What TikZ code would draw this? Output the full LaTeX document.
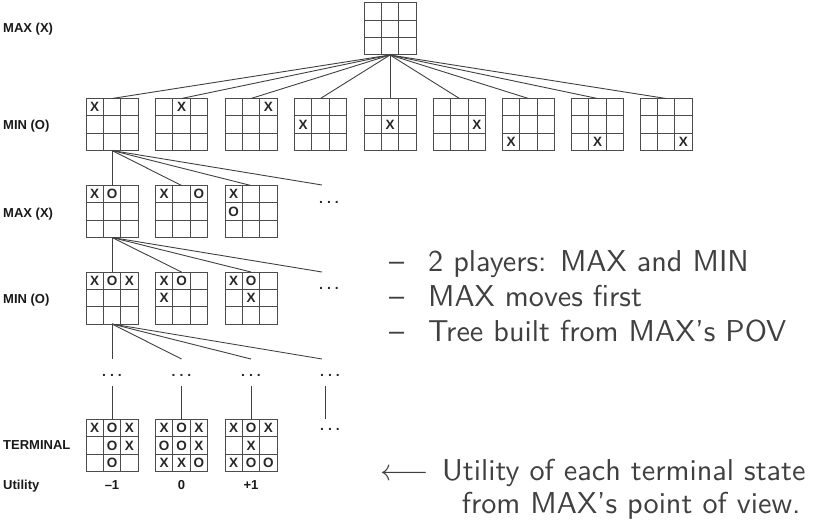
\documentclass[tikz,border=0pt]{standalone}
\usepackage{fontspec}
\usepackage{graphicx}
\usetikzlibrary{calc}
\newfontfamily\labfont{Liberation Sans}
\definecolor{gridc}{gray}{0.3}
\definecolor{edgec}{gray}{0.25}
\definecolor{slidetext}{gray}{0.25}

% slide text: 10pt design size, enlarged
\newcommand\slidetxt[1]{\scalebox{3.02}{\fontsize{10}{12}\selectfont\sffamily #1}}
\newcommand\itemdash{\makebox[12.9pt][l]{\textendash}}
\newcommand\dotrow{.\hspace{4pt}.\hspace{4pt}.}

% marks in a board: list of row/col/symbol
\newcommand\putmarks[2]{%
  \foreach \mrow/\mcol/\msym [count=\mn] in {#2}{%
    \node[mk] (#1-\mn) at ($(#1.north west)+({(\mcol+0.5)*52/3},{(\mrow+0.5)*52/3})$) {\msym};
  }}

\begin{document}
\begin{tikzpicture}[x=1pt,y=-1pt,
  board/.style={draw=gridc, line width=1pt, minimum size=52pt, inner sep=0pt, outer sep=0pt,
    path picture={
      \foreach \i in {1,2}{
        \draw[gridc, line width=1pt]
          ($(path picture bounding box.north west)!\i/3!(path picture bounding box.north east)$) --
          ($(path picture bounding box.south west)!\i/3!(path picture bounding box.south east)$);
        \draw[gridc, line width=1pt]
          ($(path picture bounding box.north west)!\i/3!(path picture bounding box.south west)$) --
          ($(path picture bounding box.north east)!\i/3!(path picture bounding box.south east)$);
      }}},
  mk/.style={font=\labfont\bfseries\fontsize{13.5}{15}\selectfont, inner sep=0pt, text=black!85},
  lab/.style={font=\labfont\bfseries\fontsize{13}{15}\selectfont, anchor=base west, inner sep=0pt, text=black!90},
  val/.style={font=\labfont\bfseries\fontsize{13}{15}\selectfont, anchor=base, inner sep=0pt, text=black!90},
  dots/.style={font=\labfont\bfseries\fontsize{14}{16}\selectfont, anchor=base, inner sep=0pt, text=black!85},
  edge/.style={draw=edgec, line width=0.9pt},
  txt/.style={inner sep=0pt, text=slidetext}]

\useasboundingbox (0,0) rectangle (814,524);

% root
\node[board] (top) at (390,29) {};

% first move of MAX
\foreach \n/\x in {1/112,2/181.5,3/251,4/320.5,5/390,6/459.5,7/528.5,8/597.5,9/666}
  \node[board] (b\n) at (\x,124.5) {};
\putmarks{b1}{0/0/X}
\putmarks{b2}{0/1/X}
\putmarks{b3}{0/2/X}
\putmarks{b4}{1/0/X}
\putmarks{b5}{1/1/X}
\putmarks{b6}{1/2/X}
\putmarks{b7}{2/0/X}
\putmarks{b8}{2/1/X}
\putmarks{b9}{2/2/X}
\foreach \n in {1,...,9} \draw[edge] (top.south) -- (b\n.north);

% replies of MIN
\foreach \n/\x in {1/112,2/181.5,3/251}
  \node[board] (c\n) at (\x,211.5) {};
\putmarks{c1}{0/0/X,0/1/O}
\putmarks{c2}{0/0/X,0/2/O}
\putmarks{c3}{0/0/X,1/0/O}
\coordinate (e1) at (322,185);
\node[dots] (m1) at (329,203) {\dotrow};
\foreach \n in {1,2,3} \draw[edge] (b1.south) -- (c\n.north);
\draw[edge] (b1.south) -- (e1);

% second move of MAX
\foreach \n/\x in {1/112,2/181.5,3/251}
  \node[board] (d\n) at (\x,298) {};
\putmarks{d1}{0/0/X,0/1/O,0/2/X}
\putmarks{d2}{0/0/X,0/1/O,1/0/X}
\putmarks{d3}{0/0/X,0/1/O,1/1/X}
\coordinate (e2) at (322,272);
\node[dots] (m2) at (329,289.5) {\dotrow};
\foreach \n in {1,2,3} \draw[edge] (c1.south) -- (d\n.north);
\draw[edge] (c1.south) -- (e2);

% elided levels
\foreach \n/\x in {1/112,2/181.5,3/251,4/322} \coordinate (f\n) at (\x,359);
\foreach \n/\x in {1/112,2/181.5,3/251,4/330} \node[dots] (k\n) at (\x,376) {\dotrow};
\foreach \n in {1,...,4} \draw[edge] (d1.south) -- (f\n);

% terminal states
\foreach \n/\x in {1/112,2/181.5,3/251}
  \node[board] (t\n) at (\x,445.5) {};
\putmarks{t1}{0/0/X,0/1/O,0/2/X,1/1/O,1/2/X,2/1/O}
\putmarks{t2}{0/0/X,0/1/O,0/2/X,1/0/O,1/1/O,1/2/X,2/0/X,2/1/X,2/2/O}
\putmarks{t3}{0/0/X,0/1/O,0/2/X,1/1/X,2/0/X,2/1/O,2/2/O}
\foreach \n/\x in {1/112,2/181.5,3/251} {
  \coordinate (g\n) at (\x,386);
  \draw[edge] (g\n) -- (t\n.north);
}
\coordinate (g4) at (325,386);
\coordinate (h4) at (325,419);
\draw[edge] (g4) -- (h4);
\node[dots] (k5) at (330,430) {\dotrow};

% level labels
\node[lab] (r0) at (3,32.5) {MAX (X)};
\node[lab] (r1) at (3,130) {MIN (O)};
\node[lab] (r2) at (3,217.5) {MAX (X)};
\node[lab] (r3) at (3,303) {MIN (O)};
\node[lab] (r4) at (3,449.5) {TERMINAL};
\node[lab] (r5) at (3,489) {Utility};
\node[val] (v1) at (112,489) {\textendash1};
\node[val] (v2) at (181.5,489) {0};
\node[val] (v3) at (251,489) {+1};

% notes
\node[txt, anchor=base west] (l1) at (389,271) {\slidetxt{\itemdash 2 players: MAX and MIN}};
\node[txt, anchor=base west] (l2) at (389,306) {\slidetxt{\itemdash MAX moves first}};
\node[txt, anchor=base west] (l3) at (389,341) {\slidetxt{\itemdash Tree built from MAX's POV}};

\node[txt, anchor=base west] (arr) at (380,480) {\slidetxt{$\longleftarrow$}};
\node[txt, anchor=base west] (u1) at (442,480) {\slidetxt{Utility of each terminal state}};
\node[txt, anchor=base east] (u2) at ([xshift=-5pt,yshift=-33pt]u1.base east) {\slidetxt{from MAX's point of view.}};
\end{tikzpicture}
\end{document}
